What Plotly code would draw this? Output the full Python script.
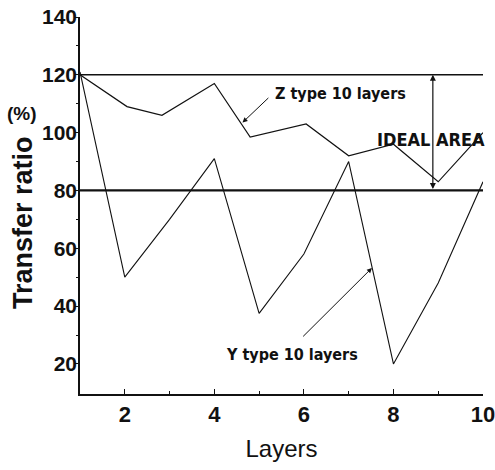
import plotly.graph_objects as go

# ---- data ----
layers_z = [1, 2.05, 2.83, 4, 4.8, 6.05, 7, 8, 9, 10]
ratio_z = [120, 109, 106, 117, 98.5, 103, 92, 96, 83, 100]

layers_y = [1, 2, 3, 4, 5, 6, 7, 8, 9, 10]
ratio_y = [121, 50, 70, 91, 37.5, 58, 90, 20, 48, 83]

ideal_low = 80
ideal_high = 120

x_ticks = [2, 4, 6, 8, 10]
y_ticks = [20, 40, 60, 80, 100, 120, 140]

narrow = "DejaVu Sans Condensed"
sans = "Liberation Sans, Arial, sans-serif"

fig = go.Figure()
fig.add_trace(go.Scatter(x=layers_z, y=ratio_z, mode="lines",
                         line=dict(color="#111", width=1.2), showlegend=False))
fig.add_trace(go.Scatter(x=layers_y, y=ratio_y, mode="lines",
                         line=dict(color="#111", width=1.1), showlegend=False))

for v, w in [(ideal_high, 1.6), (ideal_low, 2.2)]:
    fig.add_shape(type="line", xref="x", yref="y", x0=1, x1=10, y0=v, y1=v,
                  line=dict(color="#111", width=w))

ann_font = dict(family=narrow, size=16, color="#111", weight="bold")

# Z label + arrow
fig.add_annotation(x=4.63, y=103.5, ax=5.24, ay=112.5, axref="x", ayref="y",
                   xref="x", yref="y", text="", showarrow=True,
                   arrowhead=2, arrowsize=1, arrowwidth=1, arrowcolor="#111")
fig.add_annotation(x=5.31, y=113.7, xref="x", yref="y", text="Z type 10 layers",
                   showarrow=False, xanchor="left", yanchor="middle", font=ann_font)

# Y label + arrow
fig.add_annotation(x=7.52, y=53.2, ax=5.95, ay=29.0, axref="x", ayref="y",
                   xref="x", yref="y", text="", showarrow=True,
                   arrowhead=2, arrowsize=1, arrowwidth=1, arrowcolor="#111")
fig.add_annotation(x=5.73, y=23.1, xref="x", yref="y", text="Y type 10 layers",
                   showarrow=False, xanchor="center", yanchor="middle", font=ann_font)

# Ideal area double arrow
fig.add_annotation(x=8.88, y=ideal_high, ax=8.88, ay=ideal_low, axref="x", ayref="y",
                   xref="x", yref="y", text="", showarrow=True, arrowside="end+start",
                   arrowhead=2, arrowsize=1, arrowwidth=1.2, arrowcolor="#111",
                   standoff=0, startstandoff=0)
fig.add_annotation(x=8.84, y=97.6, xref="x", yref="y", text="IDEAL AREA",
                   showarrow=False, xanchor="center", yanchor="middle",
                   font=dict(family=narrow, size=18, color="#111", weight="bold"))

# Y axis title pieces
fig.add_annotation(x=-0.1414, y=0.4536, xref="paper", yref="paper", text="Transfer ratio",
                   textangle=-90, showarrow=False, xanchor="center", yanchor="middle",
                   font=dict(family=sans, size=27, color="#111", weight="bold"))
fig.add_annotation(x=-0.144, y=0.745, xref="paper", yref="paper", text="(%)",
                   showarrow=False, xanchor="center", yanchor="middle",
                   font=dict(family=sans, size=19, color="#111", weight="bold"))

fig.update_xaxes(range=[1, 10], tickvals=x_ticks, ticktext=[str(t) for t in x_ticks],
                 ticks="inside", ticklen=5, tickwidth=1, tickcolor="#111",
                 minor=dict(tickvals=[3, 5, 7, 9], ticks="inside", ticklen=3, tickcolor="#111"),
                 showline=True, linecolor="#111", linewidth=1.5, showgrid=False, zeroline=False,
                 automargin=False, ticklabeloverflow="allow",
                 tickfont=dict(family=sans, size=22, color="#111", weight="bold"),
                 title=dict(text="Layers", font=dict(family=sans, size=24, color="#111"),
                            standoff=14))
fig.update_yaxes(range=[9.6, 140], tickvals=y_ticks, ticktext=[str(t) for t in y_ticks],
                 ticks="outside", ticklen=4, tickwidth=1.2, tickcolor="#111",
                 minor=dict(tickvals=[30, 50, 70, 90, 110, 130], ticks="outside", ticklen=2,
                            tickcolor="#111"),
                 showline=True, linecolor="#111", linewidth=1.5, showgrid=False, zeroline=False,
                 automargin=False, ticklabelstandoff=-7, ticklabeloverflow="allow",
                 tickfont=dict(family=sans, size=21, color="#111", weight="bold"))

fig.update_layout(width=495, height=470, margin=dict(l=80, r=12, t=17, b=76),
                  plot_bgcolor="white", paper_bgcolor="white")

fig.write_html("out.html", config={"displayModeBar": False},
               post_script="document.body.style.margin='0';"
                           "document.documentElement.style.overflow='hidden';"
                           "document.body.style.overflow='hidden';")
